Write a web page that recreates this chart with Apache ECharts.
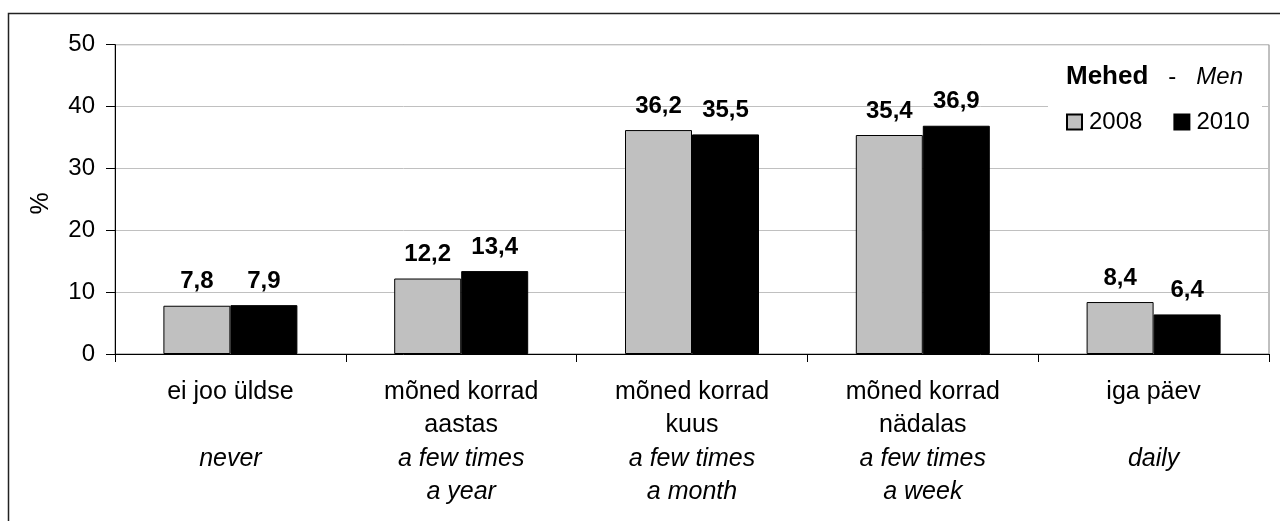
<!DOCTYPE html>
<html>
<head>
<meta charset="utf-8">
<script src="https://cdn.jsdelivr.net/npm/echarts@6/dist/echarts.min.js"></script>
<style>html,body{margin:0;padding:0;background:#fff}#c{width:1280px;height:521px}</style>
</head>
<body>
<div id="c"></div>
<script>
const catEt = ['ei joo üldse', 'mõned korrad\naastas', 'mõned korrad\nkuus', 'mõned korrad\nnädalas', 'iga päev'];
const catEn = ['never', 'a few times\na year', 'a few times\na month', 'a few times\na week', 'daily'];
const seriesNames = ['2008', '2010'];
const values2008 = [7.8, 12.2, 36.2, 35.4, 8.4];
const values2010 = [7.9, 13.4, 35.5, 36.9, 6.4];
const yTicks = [0, 10, 20, 30, 40, 50];

const FONT = "'Liberation Sans', Arial, sans-serif";
const categories = catEt.map((e, i) => i);

function catLabel(i) {
  const et = catEt[i].split('\n');
  const en = catEn[i].split('\n');
  const lines = et.map(s => '{n|' + s + '}');
  if (et.length === 1) lines.push('{n| }');
  en.forEach(s => lines.push('{i|' + s + '}'));
  return lines.join('\n');
}

const chart = echarts.init(document.getElementById('c'), null, {renderer: 'canvas'});
const labelOpt = {
  show: true, position: 'top', distance: 12,
  fontFamily: FONT, fontSize: 24, fontWeight: 'bold', color: '#000',
  formatter: p => String(p.value).replace('.', ',')
};
chart.setOption({
  animation: false,
  backgroundColor: '#fff',
  textStyle: {fontFamily: FONT},
  graphic: [
    {type: 'rect', z: 1, shape: {x: 8.5, y: 13.5, width: 1400, height: 700},
     style: {fill: 'none', stroke: '#222', lineWidth: 1.5}},
    {type: 'rect', z: 3, shape: {x: 1048, y: 55, width: 214, height: 85},
     style: {fill: '#fff', stroke: 'none'}}
  ],
  title: {
    right: 37, top: 64, padding: 0,
    text: '{b|Mehed}   -   {i|Men}',
    textStyle: {
      fontFamily: FONT, fontSize: 24, fontWeight: 'normal', color: '#000',
      rich: {
        b: {fontFamily: FONT, fontSize: 26, fontWeight: 'bold', color: '#000'},
        i: {fontFamily: FONT, fontSize: 24, fontWeight: 'normal', fontStyle: 'italic', color: '#000'}
      }
    }
  },
  legend: {
    left: 1066, top: 110, padding: 0,
    itemWidth: 15, itemHeight: 15, itemGap: 31,
    icon: 'rect',
    textStyle: {fontFamily: FONT, fontSize: 24, color: '#000', padding: [0, 0, 0, 2]},
    data: seriesNames
  },
  grid: {left: 115, right: 11, top: 44.7, bottom: 167, show: true, borderColor: '#808080', borderWidth: 1},
  xAxis: {
    type: 'category', data: categories,
    axisLine: {lineStyle: {color: '#000', width: 1}},
    axisTick: {show: true, length: 8, lineStyle: {color: '#000'}},
    axisLabel: {
      margin: 21, interval: 0,
      formatter: v => catLabel(Number(v)),
      rich: {
        n: {fontFamily: FONT, fontSize: 25, color: '#000', lineHeight: 33.5},
        i: {fontFamily: FONT, fontSize: 25, color: '#000', fontStyle: 'italic', lineHeight: 33.5}
      }
    }
  },
  yAxis: {
    type: 'value', min: 0, max: 50, interval: 10,
    name: '%', nameLocation: 'middle', nameRotate: 90, nameGap: 61,
    nameTextStyle: {fontFamily: FONT, fontSize: 25, color: '#000', padding: [0, 8, 0, 0]},
    axisLine: {show: true, lineStyle: {color: '#000', width: 1}},
    axisTick: {show: true, length: 9, lineStyle: {color: '#000'}},
    axisLabel: {margin: 20, fontFamily: FONT, fontSize: 24, color: '#000',
      formatter: v => yTicks.includes(v) ? String(v) : ''},
    splitLine: {lineStyle: {color: '#c0c0c0', width: 1}}
  },
  series: [
    {name: seriesNames[0], type: 'bar', data: values2008, barWidth: 67, barGap: '0%',
     itemStyle: {color: '#c0c0c0', borderColor: '#000', borderWidth: 1}, label: labelOpt},
    {name: seriesNames[1], type: 'bar', data: values2010, barWidth: 67, barGap: '0%',
     itemStyle: {color: '#000', borderColor: '#000', borderWidth: 1}, label: labelOpt}
  ]
});
</script>
</body>
</html>
